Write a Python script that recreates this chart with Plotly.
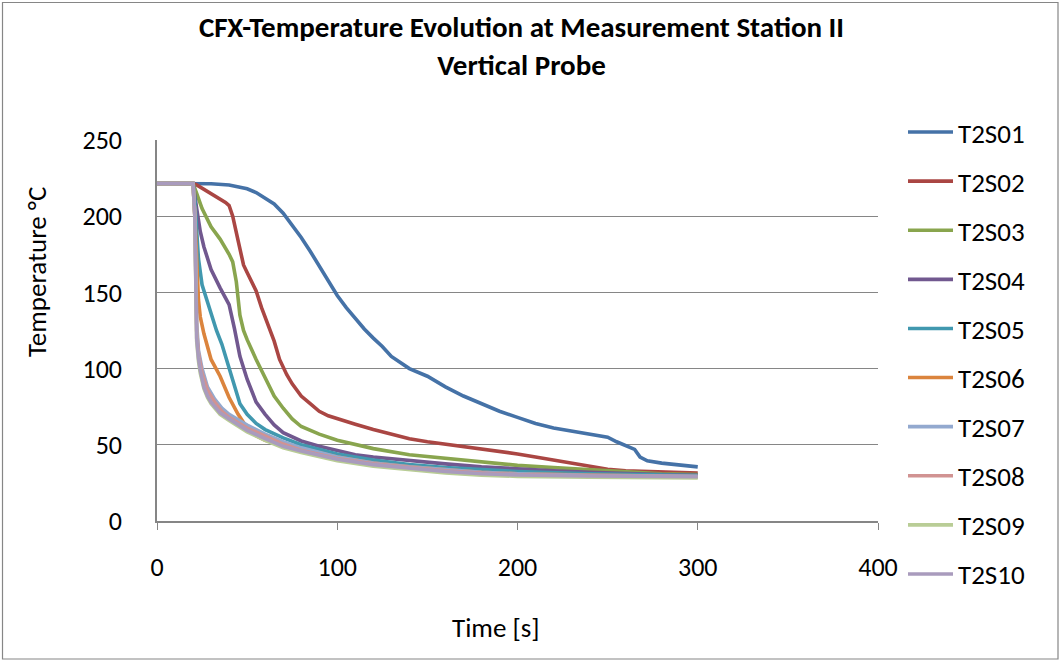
import plotly.graph_objects as go

# ---------------- data ----------------
names = ["T2S01", "T2S02", "T2S03", "T2S04", "T2S05",
         "T2S06", "T2S07", "T2S08", "T2S09", "T2S10"]
colors = ["#4572A7", "#AA4643", "#89A54E", "#71588F", "#4198AF",
          "#DB843D", "#93A9CF", "#D19392", "#B9CD96", "#A99BBD"]

t01 = [0, 20, 30, 40, 50, 55, 60, 65, 70, 75, 80, 85, 90, 95, 100, 105, 110, 115, 120, 125, 130,
       140, 150, 160, 170, 180, 190, 200, 210, 220, 230, 240, 250, 255, 260, 265, 268, 272, 280, 290, 300]
v01 = [221.5, 221.5, 221.3, 220.5, 218, 215.5, 211.5, 208, 202, 194, 186, 177, 167, 157, 148, 140, 133, 126, 120, 114.5, 108,
       100, 95, 88, 82, 77, 72, 68, 64, 61, 59, 57, 55, 52, 49.5, 47, 42, 39.5, 38, 37, 35.5]

t02 = [0, 20, 22, 30, 38, 40, 42, 45, 48, 50, 53, 55, 58, 62, 65, 68, 72, 75, 80, 85, 90, 95, 100,
       110, 120, 130, 140, 150, 160, 170, 180, 190, 200, 210, 220, 230, 240, 250, 260, 270, 280, 290, 300]
v02 = [221.5, 221.5, 220.5, 215, 209, 207, 200, 184, 168, 163, 156, 151, 140, 128, 118, 106, 96, 90, 82, 77, 72, 69, 67,
       63.5, 60, 57, 54, 52, 50.5, 49, 47.5, 46, 44, 42, 40, 38, 36, 34, 33, 32.5, 32, 31.8, 31.5]

t03 = [0, 20, 22, 25, 30, 35, 40, 42, 44, 46, 48, 50, 55, 60, 65, 70, 75, 80, 90, 100, 110, 120,
       140, 160, 180, 200, 220, 240, 260, 280, 300]
v03 = [221.5, 221.5, 215, 205, 193, 185, 175, 170, 157, 135, 125, 119, 106, 94, 82, 74, 67, 62, 57, 53, 50, 47.5,
       43.5, 41, 38.5, 36.5, 35, 33.5, 32, 31, 30.5]

t04 = [0, 20, 22, 24, 26, 30, 35, 40, 43, 46, 50, 55, 60, 65, 70, 75, 80, 90, 100, 110, 120,
       140, 160, 180, 200, 220, 240, 260, 280, 300]
v04 = [221.5, 221.5, 205, 190, 180, 165, 153, 142, 126, 108, 93, 78, 70, 63, 58, 55, 52.5, 49, 46, 43.5, 42,
       39.5, 37.5, 35.5, 34, 33, 32, 31, 30.5, 30]

t05 = [0, 20, 21, 22, 23, 25, 28, 30, 33, 36, 40, 43, 46, 50, 55, 60, 70, 80, 90, 100, 120,
       140, 160, 180, 200, 240, 300]
v05 = [221.5, 221.5, 210, 190, 172, 155, 143, 136, 125, 116, 101, 88, 77, 70, 64, 60, 54.5, 50, 47, 44, 40,
       37, 35, 33.5, 32.5, 31, 29.8]

t06 = [0, 20, 21, 22, 23, 24, 26, 30, 35, 40, 45, 50, 55, 60, 70, 80, 100, 120, 140, 160, 180, 200, 240, 300]
v06 = [221.5, 221.5, 200, 165, 145, 134, 123, 106, 95, 81, 70, 61, 56, 53, 50, 47.5, 42, 38, 35.5, 33.5, 32, 31, 30, 29]

t07 = [0, 20, 21, 22, 23, 25, 28, 32, 36, 40, 50, 60, 70, 80, 100, 120, 140, 160, 180, 200, 240, 300]
v07 = [221.5, 221.5, 200, 130, 112, 100, 88, 80, 74, 70, 63, 57, 52, 48, 42, 38, 35.5, 33.5, 32, 31, 30, 29.3]

t08 = [0, 20, 21, 22, 23, 25, 28, 32, 36, 40, 50, 60, 70, 80, 100, 120, 140, 160, 180, 200, 240, 300]
v08 = [221.5, 221.5, 200, 125, 110, 97, 86, 78, 72, 68, 61, 55.5, 50.5, 46.5, 41, 37.5, 35, 33, 31.5, 30.5, 29.7, 29.2]

t09 = [0, 20, 21, 22, 23, 24, 26, 28, 30, 35, 40, 50, 60, 70, 80, 100, 120, 140, 160, 180, 200, 240, 300]
v09 = [221.5, 221.5, 200, 118, 105, 97, 87, 81, 77, 70, 66, 58.5, 53, 48, 45, 39.5, 36, 33.5, 31.5, 30, 29.3, 28.7, 28.3]

t10 = [0, 20, 21, 21.5, 22, 23, 24, 26, 28, 30, 35, 40, 45, 50, 60, 70, 80, 90, 100, 120,
       140, 160, 180, 200, 240, 300]
v10 = [221.5, 221.5, 200, 160, 120, 107, 99, 88, 82, 78, 71, 67, 63, 59.5, 54, 49, 46, 43, 40.5, 37,
       34.5, 32.5, 31, 30.2, 29.5, 29]

times = [t01, t02, t03, t04, t05, t06, t07, t08, t09, t10]
values = [v01, v02, v03, v04, v05, v06, v07, v08, v09, v10]

x_ticks = [0, 100, 200, 300, 400]
y_ticks = [0, 50, 100, 150, 200, 250]

title_line1 = "CFX-Temperature Evolution at Measurement Station II"
title_line2 = "Vertical Probe"
x_title = "Time [s]"
y_title = "Temperature °C"

# ---------------- figure ----------------
FONT = "Carlito, Lato, sans-serif"
W, H = 1061, 662
L, R, T, B = 157, 183, 140, 141
pw, ph = W - L - R, H - T - B

fig = go.Figure()
for n, c, tx, vy in zip(names, colors, times, values):
    fig.add_trace(go.Scatter(x=tx, y=vy, mode="lines", name=n, legendgroup=n,
                             line=dict(color=c, width=3.6)))

def px_x(p):
    return (p - L) / pw

def px_y(p):
    return (H - B - p) / ph

fig.update_layout(
    width=W, height=H,
    margin=dict(l=L, r=R, t=T, b=B),
    paper_bgcolor="white", plot_bgcolor="white",
    font=dict(family=FONT, color="black", size=26),
    showlegend=True,
    legend=dict(x=px_x(903), y=px_y(108), xanchor="left", yanchor="top",
                font=dict(family=FONT, size=27, color="black"),
                tracegroupgap=11, traceorder="grouped", maxheight=560,
                bgcolor="rgba(0,0,0,0)", itemwidth=45),
    xaxis=dict(range=[0, 400], tickvals=x_ticks, showgrid=False, zeroline=False,
               showline=True, linecolor="#868686", linewidth=1.5,
               ticks="outside", ticklen=7, tickcolor="#868686",
               tickfont=dict(family=FONT, size=26, color="black"),
               ticklabelstandoff=15),
    yaxis=dict(range=[0, 250], tickvals=y_ticks, showgrid=True, gridcolor="#868686",
               gridwidth=1.2, zeroline=False,
               showline=True, linecolor="#868686", linewidth=1.5,
               ticks="", tickfont=dict(family=FONT, size=26, color="black"),
               ticklabelstandoff=28),
    annotations=[
        dict(text="<b>" + title_line1 + "</b><br><b>" + title_line2 + "</b>",
             xref="paper", yref="paper",
             x=px_x(521), y=px_y(46), xanchor="center", yanchor="middle", showarrow=False,
             font=dict(family=FONT, size=29, color="black")),
        dict(text=x_title, xref="paper", yref="paper", x=px_x(496), y=px_y(627),
             xanchor="center", yanchor="middle", showarrow=False,
             font=dict(family=FONT, size=27, color="black")),
        dict(text=y_title, xref="paper", yref="paper", x=px_x(36), y=px_y(272),
             xanchor="center", yanchor="middle", showarrow=False, textangle=-90,
             font=dict(family=FONT, size=27, color="black")),
    ],
    shapes=[
        dict(type="rect", xref="paper", yref="paper",
             x0=px_x(2.5), x1=px_x(1058), y0=px_y(659), y1=px_y(2.5),
             line=dict(color="#868686", width=1.2), fillcolor="rgba(0,0,0,0)", layer="below"),
    ],
)

fig.write_html("out.html", config={"displayModeBar": False},
               post_script="document.body.style.margin='0';")
